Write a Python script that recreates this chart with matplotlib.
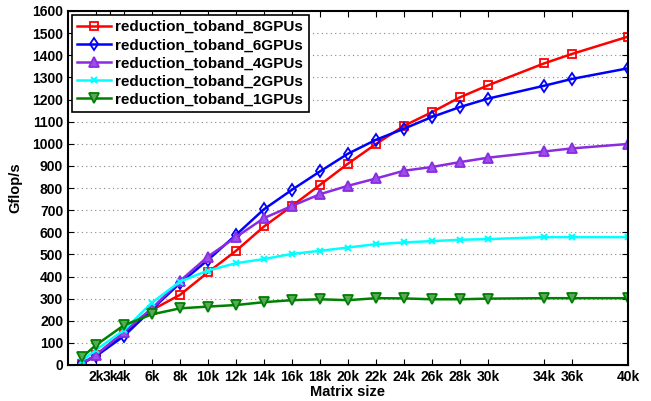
import matplotlib
matplotlib.use("Agg")
import matplotlib.pyplot as plt

plt.rcParams['font.family'] = ['Liberation Sans', 'DejaVu Sans']
plt.rcParams['font.weight'] = 'bold'

# matrix sizes in k
sizes = [1, 2, 4, 6, 8, 10, 12, 14, 16, 18, 20, 22, 24, 26, 28, 30, 34, 36, 40]

gpu8 = [5, 45, 145, 249, 317, 419, 516, 626, 719, 814, 910, 999, 1081, 1143,
        1210, 1264, 1363, 1406, 1484]
gpu6 = [8, 40, 131, 252, 370, 475, 588, 704, 792, 875, 955, 1018, 1068, 1121,
        1166, 1204, 1262, 1293, 1341]
gpu4 = [8, 45, 151, 256, 380, 490, 578, 664, 719, 772, 810, 843, 878, 895,
        917, 937, 965, 979, 999]
gpu2 = [20, 68, 158, 282, 377, 427, 460, 479, 502, 516, 531, 546, 554, 560,
        566, 569, 578, 578, 578]
gpu1 = [35, 90, 180, 229, 256, 264, 271, 284, 293, 297, 293, 302, 301, 297,
        297, 300, 302, 302, 302]

xtick_vals = [2, 3, 4, 6, 8, 10, 12, 14, 16, 18, 20, 22, 24, 26, 28, 30, 34, 36, 40]
xtick_labels = [f'{v}k' for v in xtick_vals]

fig = plt.figure(figsize=(6.51, 4.01), dpi=100)
ax = fig.add_axes([68 / 651, 1 - 365 / 401, 560 / 651, 354 / 401])

ax.plot(sizes, gpu8, color='#ff0000', lw=1.8, marker='s', ms=5.5,
        mfc='none', mew=1.3, label='reduction_toband_8GPUs')
ax.plot(sizes, gpu6, color='#0000ff', lw=1.8, marker='d', ms=6.5,
        mfc='none', mew=1.3, label='reduction_toband_6GPUs')
ax.plot(sizes, gpu4, color='#8a2be2', lw=1.8, marker='^', ms=7.5,
        mfc='#9b4fe8', mew=1.3, label='reduction_toband_4GPUs')
ax.plot(sizes, gpu2, color='#00ffff', lw=1.8, marker='x', ms=4,
        mew=1.5, label='reduction_toband_2GPUs')
ax.plot(sizes, gpu1, color='#008000', lw=1.8, marker='v', ms=7.5,
        mfc='#5aa85a', mew=1.3, label='reduction_toband_1GPUs')

ax.set_xlim(0, 40)
ax.set_ylim(0, 1600)
ax.set_xticks(xtick_vals)
ax.set_xticklabels(xtick_labels)
ax.set_yticks(range(0, 1601, 100))
ax.yaxis.grid(True, linestyle=(0, (1, 3)), color='#888888', lw=0.8)
ax.tick_params(direction='in', top=True, right=True, labelsize=10, length=4)
for s in ax.spines.values():
    s.set_linewidth(1.5)

ax.set_xlabel('Matrix size', fontsize=10.5, fontweight='bold', labelpad=1)
ax.set_ylabel('Gflop/s', fontsize=10.5, fontweight='bold', labelpad=7)

leg = ax.legend(loc='upper left', fontsize=11, fancybox=False, framealpha=1,
                edgecolor='black', borderaxespad=0.25, handlelength=2.2,
                handletextpad=0.3, labelspacing=0.27, borderpad=0.35)
leg.get_frame().set_linewidth(1.2)

fig.savefig('out.png', dpi=100)
